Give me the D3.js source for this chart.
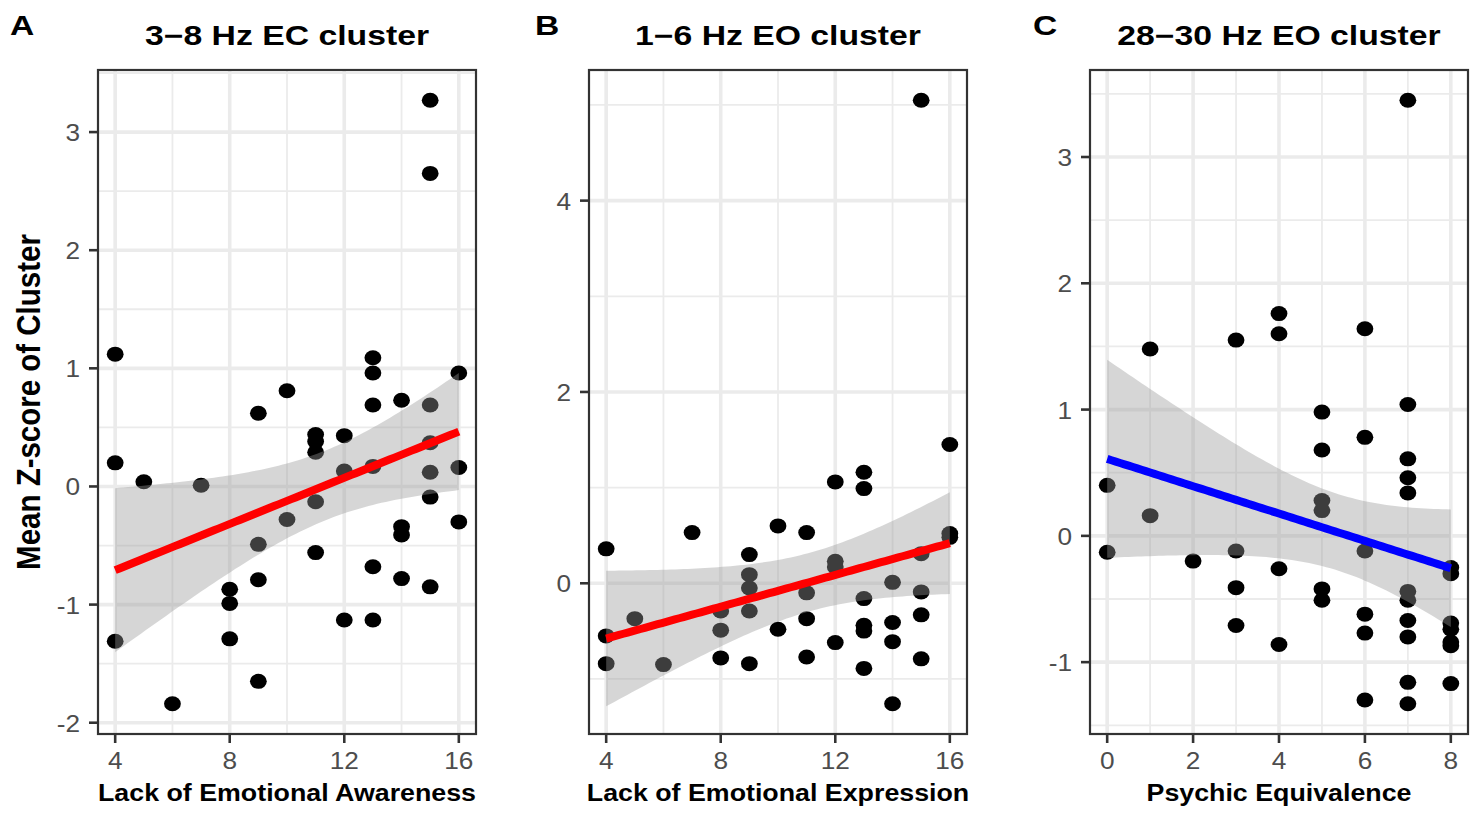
<!DOCTYPE html>
<html>
<head>
<meta charset="utf-8">
<script src="https://cdn.jsdelivr.net/npm/d3@7"></script>
<style>
  body { margin: 0; background: #fff; }
  text { font-family: "Liberation Sans", Arial, sans-serif; }
</style>
</head>
<body>
<script>
// panel A
var aX = [4,4,4, 5, 6, 7, 8,8,8, 9,9,9,9, 10,10, 11,11,11,11,11, 12,12,12,
          13,13,13,13,13,13, 14,14,14,14, 15,15,15,15,15,15,15, 16,16,16]
var aY = [1.12,0.20,-1.31, 0.04, -1.84, 0.01, -0.87,-0.99,-1.29, 0.62,-0.49,-0.79,-1.65,
          0.81,-0.28, 0.44,0.38,0.29,-0.13,-0.56, 0.43,0.13,-1.13,
          1.09,0.96,0.69,0.17,-0.68,-1.13, 0.73,-0.34,-0.41,-0.78,
          3.27,2.65,0.69,0.37,0.12,-0.09,-0.85, 0.96,0.16,-0.30]
// panel B
var bX = [4,4,4, 5, 6, 7, 8,8,8, 9,9,9,9,9, 10,10, 11,11,11,11, 12,12,12,12,
          13,13,13,13,13,13, 14,14,14,14, 15,15,15,15,15, 16,16,16]
var bY = [0.36,-0.55,-0.84, -0.37, -0.85, 0.53, -0.29,-0.49,-0.78, 0.30,0.09,-0.05,-0.29,-0.84,
          0.60,-0.48, 0.53,-0.10,-0.37,-0.77, 1.06,0.23,0.17,-0.62,
          1.16,0.99,-0.16,-0.44,-0.50,-0.89, 0.01,-0.41,-0.61,-1.26,
          5.05,0.31,-0.09,-0.33,-0.79, 1.45,0.52,0.48]
// panel C
var cX = [0,0, 1,1, 2, 3,3,3,3, 4,4,4,4, 5,5,5,5,5,5, 6,6,6,6,6,6,
          7,7,7,7,7,7,7,7,7,7,7, 8,8,8,8,8,8,8]
var cY = [0.40,-0.13, 1.48,0.16, -0.20, 1.55,-0.12,-0.41,-0.71, 1.76,1.60,-0.26,-0.86,
          0.98,0.68,0.28,0.20,-0.42,-0.51, 1.64,0.78,-0.12,-0.62,-0.77,-1.30,
          3.45,1.04,0.61,0.46,0.34,-0.44,-0.51,-0.67,-0.80,-1.16,-1.33,
          -0.25,-0.30,-0.69,-0.74,-0.84,-0.87,-1.17]

var letters = ['A', 'B', 'C']
var titles = ['3\u22128 Hz EC cluster', '1\u22126 Hz EO cluster', '28\u221230 Hz EO cluster']
var xTitles = ['Lack of Emotional Awareness', 'Lack of Emotional Expression', 'Psychic Equivalence']
var xTicksA = [4, 8, 12, 16]
var xTicksB = [4, 8, 12, 16]
var xTicksC = [0, 2, 4, 6, 8]
var yTicksA = [-2, -1, 0, 1, 2, 3]
var yTicksB = [0, 2, 4]
var yTicksC = [-1, 0, 1, 2, 3]
var lineColors = ['#ff0000', '#ff0000', '#0000ff']

var W = 1477, H = 814
var panelLeft = [98, 589, 1090]
var panelW = 378, panelTop = 70, panelBottom = 734
var tCrit = 2.02

var svg = d3.select('body').append('svg')
    .attr('width', W)
    .attr('height', H)

// text squeezed/stretched sideways like the source picture
function stretchText(g, x, y, str, size, sx, rot) {
    return g.append('text')
        .attr('transform', 'translate(' + x + ',' + y + ') scale(' + sx + ',1)' + (rot ? ' rotate(' + rot + ')' : ''))
        .style('font-size', size + 'px')
        .text(str)
}

function expand(vals) {
    var ext = d3.extent(vals)
    var pad = (ext[1] - ext[0]) * 0.05
    return [ext[0] - pad, ext[1] + pad]
}

function minorBreaks(ticks, dom) {
    var step = ticks[1] - ticks[0]
    var out = []
    for (var v = ticks[0] - step / 2; v <= ticks[ticks.length - 1] + step / 2; v += step) {
        if (v >= dom[0] && v <= dom[1]) out.push(v)
    }
    return out
}

function drawPanel(i, xs, ys, xTicks, yTicks) {
    var left = panelLeft[i]
    var g = svg.append('g')
    var pts = xs.map(function (d, k) { return { x: d, y: ys[k] } })

    var xDom = expand(xs), yDom = expand(ys)
    var x = d3.scaleLinear().domain(xDom).range([left, left + panelW])
    var y = d3.scaleLinear().domain(yDom).range([panelBottom, panelTop])

    // grid
    var grid = g.append('g').attr('stroke', '#ebebeb').attr('fill', 'none')
    minorBreaks(xTicks, xDom).forEach(function (v) {
        grid.append('line').attr('x1', x(v)).attr('x2', x(v))
            .attr('y1', panelTop).attr('y2', panelBottom).attr('stroke-width', 1.8)
    })
    minorBreaks(yTicks, yDom).forEach(function (v) {
        grid.append('line').attr('y1', y(v)).attr('y2', y(v))
            .attr('x1', left).attr('x2', left + panelW).attr('stroke-width', 1.8)
    })
    xTicks.forEach(function (v) {
        grid.append('line').attr('x1', x(v)).attr('x2', x(v))
            .attr('y1', panelTop).attr('y2', panelBottom).attr('stroke-width', 3.6)
    })
    yTicks.forEach(function (v) {
        grid.append('line').attr('y1', y(v)).attr('y2', y(v))
            .attr('x1', left).attr('x2', left + panelW).attr('stroke-width', 3.6)
    })

    // points
    g.append('g').selectAll('ellipse')
        .data(pts)
        .join('ellipse')
        .attr('cx', function (d) { return x(d.x) })
        .attr('cy', function (d) { return y(d.y) })
        .attr('rx', 8.4)
        .attr('ry', 7.5)
        .attr('fill', '#000')

    // linear fit + 95% band
    var n = pts.length
    var mx = d3.mean(xs), my = d3.mean(ys)
    var sxx = d3.sum(xs, function (d) { return (d - mx) * (d - mx) })
    var sxy = d3.sum(pts, function (d) { return (d.x - mx) * (d.y - my) })
    var slope = sxy / sxx, icpt = my - slope * mx
    var sse = d3.sum(pts, function (d) { var r = d.y - (icpt + slope * d.x); return r * r })
    var s = Math.sqrt(sse / (n - 2))
    var xr = d3.extent(xs)
    var fit = d3.range(0, 81).map(function (k) {
        var xv = xr[0] + (xr[1] - xr[0]) * k / 80
        var yv = icpt + slope * xv
        var se = s * Math.sqrt(1 / n + (xv - mx) * (xv - mx) / sxx)
        return { x: xv, y: yv, lo: yv - tCrit * se, hi: yv + tCrit * se }
    })

    g.append('path')
        .datum(fit)
        .attr('d', d3.area()
            .x(function (d) { return x(d.x) })
            .y0(function (d) { return y(d.lo) })
            .y1(function (d) { return y(d.hi) }))
        .attr('fill', '#999999')
        .attr('fill-opacity', 0.4)

    g.append('path')
        .datum(fit)
        .attr('d', d3.line()
            .x(function (d) { return x(d.x) })
            .y(function (d) { return y(d.y) }))
        .attr('fill', 'none')
        .attr('stroke', lineColors[i])
        .attr('stroke-width', 8)

    // border
    g.append('rect')
        .attr('x', left).attr('y', panelTop)
        .attr('width', panelW).attr('height', panelBottom - panelTop)
        .attr('fill', 'none')
        .attr('stroke', '#333333')
        .attr('stroke-width', 2.2)

    // ticks + labels
    xTicks.forEach(function (v) {
        g.append('line').attr('x1', x(v)).attr('x2', x(v))
            .attr('y1', panelBottom).attr('y2', panelBottom + 9)
            .attr('stroke', '#333333').attr('stroke-width', 2.6)
        stretchText(g, x(v), 769, String(v), 24.5, 1.07)
            .attr('text-anchor', 'middle').attr('fill', '#4d4d4d')
    })
    yTicks.forEach(function (v) {
        g.append('line').attr('x1', left - 9).attr('x2', left)
            .attr('y1', y(v)).attr('y2', y(v))
            .attr('stroke', '#333333').attr('stroke-width', 2.6)
        stretchText(g, left - 18, y(v) + 9, String(v), 24.5, 1.07)
            .attr('text-anchor', 'end').attr('fill', '#4d4d4d')
    })

    // titles
    var cx = left + panelW / 2
    stretchText(g, cx, 45, titles[i], 27, 1.25).attr('text-anchor', 'middle').attr('font-weight', 'bold')
    stretchText(g, cx, 801, xTitles[i], 23.3, 1.15).attr('text-anchor', 'middle').attr('font-weight', 'bold')
}

drawPanel(0, aX, aY, xTicksA, yTicksA)
drawPanel(1, bX, bY, xTicksB, yTicksB)
drawPanel(2, cX, cY, xTicksC, yTicksC)

// panel letters
var letterX = [10, 535, 1033]
letters.forEach(function (l, i) {
    stretchText(svg, letterX[i], 35, l, 28, 1.2).attr('font-weight', 'bold')
})

// shared y title
stretchText(svg, 40, 402, 'Mean Z-score of Cluster', 29.5, 1.15, -90)
    .attr('text-anchor', 'middle').attr('font-weight', 'bold')
</script>
</body>
</html>
